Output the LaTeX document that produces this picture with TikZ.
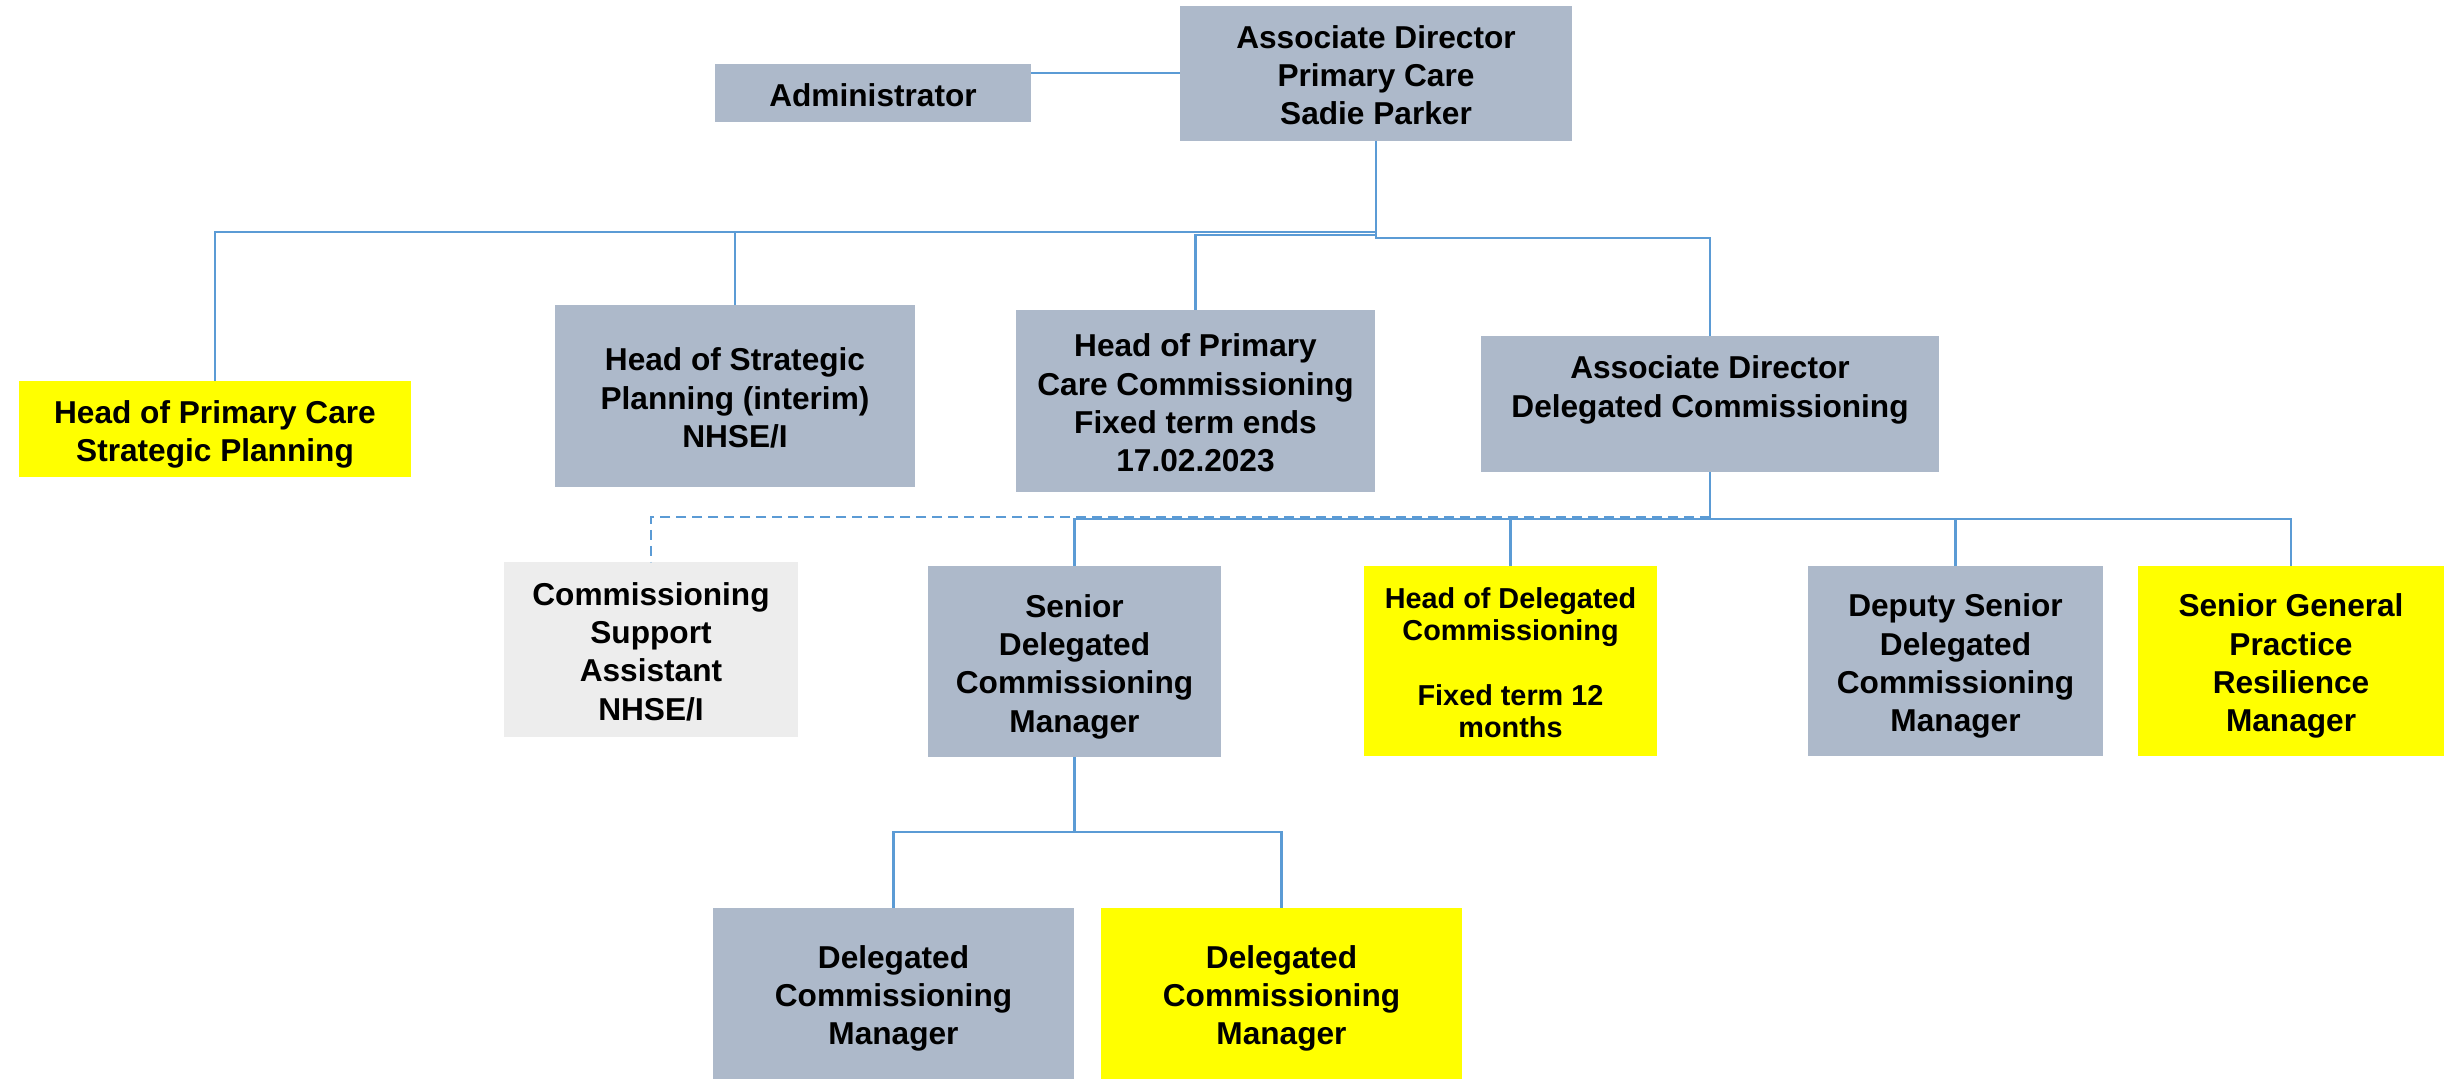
\documentclass[tikz,border=0pt]{standalone}
\usepackage{fontspec}
\setmainfont{Liberation Sans}
\definecolor{boxgray}{HTML}{ADB9CA}
\definecolor{boxyellow}{HTML}{FFFF00}
\definecolor{boxlight}{HTML}{EDEDED}
\definecolor{linkblue}{HTML}{5B9BD5}
\newcommand{\ts}{\rule{0pt}{1.111em}}
\newcommand{\bs}{\rule[-0.278em]{0pt}{0pt}}
\tikzset{
  orgbox/.style={inner sep=0pt, outer sep=0pt, align=center,
    font=\bfseries\fontsize{9}{10.9}\selectfont, text=black},
  gbox/.style={orgbox, fill=boxgray},
  ybox/.style={orgbox, fill=boxyellow},
  lbox/.style={orgbox, fill=boxlight},
  bx/.style 2 args={minimum width=#1*0.1mm, minimum height=#2*0.1mm},
  conn/.style={draw=linkblue, line width=0.6pt},
  dconn/.style={conn, dash pattern=on 1mm off 0.6mm},
}
\begin{document}
\begin{tikzpicture}[x=0.1mm, y=-0.1mm]
\useasboundingbox (0,0) rectangle (2458,1079);
\fill[white] (0,0) rectangle (2458,1079);

% boxes
\node[gbox, bx={392}{135}] (adpc) at (1376,73.5) {\ts Associate Director\\Primary Care\\Sadie Parker\bs};
\node[gbox, bx={316}{58}] (admin) at (873,93) {\ts Administrator\bs};
\node[ybox, bx={392}{96}] (hpcsp) at (215,429) {\ts Head of Primary Care\\Strategic Planning\bs};
\node[gbox, bx={360}{182}] (hsp) at (735,396) {\ts Head of Strategic\\Planning (interim)\\NHSE/I\bs};
\node[gbox, bx={359}{182}] (hpcc) at (1195.5,401) {\ts Head of Primary\\Care Commissioning\\Fixed term ends\\17.02.2023\bs};
\node[gbox, bx={458}{136}] (addc) at (1710,404) {\ts Associate Director\\Delegated Commissioning\\\mbox{}\bs};
\node[lbox, bx={294}{175}] (csa) at (651,649.5) {\ts Commissioning\\Support\\Assistant\\NHSE/I\bs};
\node[gbox, bx={293}{191}] (sdcm) at (1074.5,661.5) {\ts Senior\\Delegated\\Commissioning\\Manager\bs};
\node[ybox, bx={293}{190}, font=\bfseries\fontsize{8.2}{9.2}\selectfont] (hodc) at (1510.5,661) {\ts Head of Delegated\\Commissioning\\\mbox{}\\Fixed term 12\\months\bs};
\node[gbox, bx={295}{190}] (deputy) at (1955.5,661) {\ts Deputy Senior\\Delegated\\Commissioning\\Manager\bs};
\node[ybox, bx={306}{190}] (sgprm) at (2291,661) {\ts Senior General\\Practice\\Resilience\\Manager\bs};
\node[gbox, bx={361}{171}] (dcma) at (893.5,993.5) {\ts Delegated\\Commissioning\\Manager\bs};
\node[ybox, bx={361}{171}] (dcmb) at (1281.5,993.5) {\ts Delegated\\Commissioning\\Manager\bs};

% helper levels
\coordinate (ya) at (0,73);
\coordinate (yl) at (0,232);
\coordinate (ym) at (0,235);
\coordinate (yr) at (0,238);
\coordinate (yd) at (0,517);
\coordinate (yb) at (0,519);
\coordinate (yc) at (0,832);

% connectors
\draw[conn] (admin.east |- ya) -- (adpc.west |- ya);
\draw[conn] (adpc.south) -- (adpc.south |- yl) -| (hpcsp.north);
\draw[conn] (adpc.south |- yl) -| (hsp.north);
\draw[conn] (adpc.south |- ym) -| (hpcc.north);
\draw[conn] (adpc.south) -- (adpc.south |- yr) -| (addc.north);

\draw[dconn] (addc.south |- yd) -| (csa.north);
\draw[conn] (addc.south) -- (addc.south |- yb) -| (sdcm.north);
\draw[conn] (addc.south |- yb) -| (hodc.north);
\draw[conn] (addc.south |- yb) -| (deputy.north);
\draw[conn] (addc.south |- yb) -| (sgprm.north);

\draw[conn] (sdcm.south) -- (sdcm.south |- yc) -| (dcma.north);
\draw[conn] (sdcm.south |- yc) -| (dcmb.north);
\end{tikzpicture}
\end{document}
